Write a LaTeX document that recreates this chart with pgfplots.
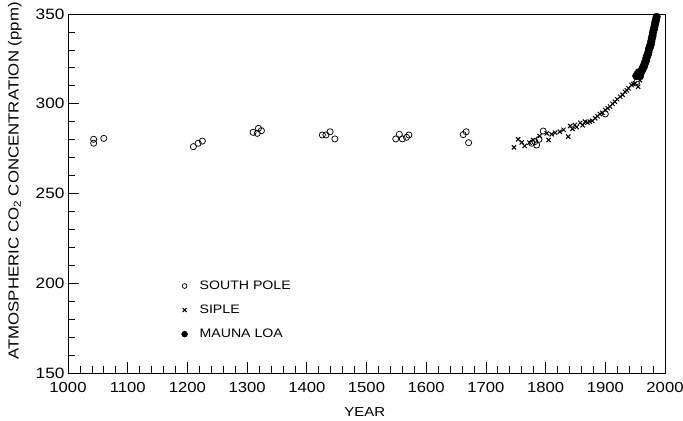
\documentclass[border=0pt]{standalone}
\usepackage{pgfplots}
\pgfplotsset{compat=1.18}
\usepackage{fontspec}
\setmainfont{Liberation Sans}[FakeStretch=1.15]
\usetikzlibrary{calc}
\begin{document}
\begin{tikzpicture}
\begin{axis}[
  scale only axis,
  width=597bp, height=359bp,
  xmin=1000, xmax=2000, ymin=150, ymax=350,
  xtick={1000,1100,...,2000},
  ytick={150,200,...,350},
  minor x tick num=4, minor y tick num=4,
  xtick pos=bottom, ytick pos=left,
  tick align=inside,
  major tick length=11bp, minor tick length=7bp,
  every tick/.style={black, line width=0.7pt},
  axis line style={line width=0.8pt},
  /pgf/number format/assume math mode=true,
  /pgf/number format/1000 sep={},
  x tick label style={font=\fontsize{14.5bp}{16bp}\selectfont, yshift=-6bp},
  y tick label style={font=\fontsize{15bp}{17bp}\selectfont},
  xlabel={YEAR},
  xlabel style={font=\fontsize{13bp}{14bp}\selectfont, at={(axis description cs:0.497,-0.11)}, anchor=center},
  ylabel={ATMOSPHERIC CO\textsubscript{2} CONCENTRATION (ppm)},
  ylabel style={font=\fontsize{14.6bp}{16bp}\selectfont, at={(axis description cs:-0.089,0.535)}, anchor=center},
  legend style={draw=none, fill=none, at={(axis description cs:0.185,0.268)}, anchor=north west,
    font=\fontsize{12.3bp}{13bp}\selectfont, row sep=10bp,
    /tikz/every odd column/.append style={column sep=10bp}},
  legend cell align=left,
]
\addlegendimage{only marks, mark=o, mark size=2.4pt, line width=0.75pt}
\addlegendentry{SOUTH POLE}
\addlegendimage{only marks, mark=x, mark size=2.8pt, line width=1.1pt}
\addlegendentry{SIPLE}
\addlegendimage{only marks, mark=*, mark size=3pt}
\addlegendentry{MAUNA LOA}

% South Pole
\addplot[forget plot, only marks, mark=o, mark size=3.1pt, line width=0.75pt] coordinates {
(1043,280.2) (1043,278.0) (1060,280.7)
(1210,276.1) (1218,278.0) (1225,279.2)
(1310,284.1) (1319,286.3) (1324,285.0) (1317,283.5)
(1426,282.6) (1432,282.6) (1439,284.4) (1447,280.4)
(1549,280.4) (1555,283.0) (1560,280.4) (1567,281.3) (1571,282.6)
(1667,284.4) (1662,282.8) (1671,278.3)
(1777,278.0) (1782,278.9) (1789,280.2) (1796,284.8) (1785,277.0)
(1900,294.3) (1953,312.3)
};

% Siple
\addplot[forget plot, only marks, mark=x, mark size=3pt, line width=1pt] coordinates {
(1747,275.7) (1754,280.2) (1760,278.5) (1765,276.5) (1773,278.3) (1779,279.8)
(1790,282.0) (1802,283.5) (1805,279.8) (1810,283.0) (1816,283.9) (1824,284.4)
(1830,285.5) (1838,281.7) (1841,287.6) (1845,286.0) (1849,288.2) (1852,287.0)
(1858,289.4) (1862,288.0) (1866,290.0) (1870,289.5) (1874,290.0) (1878,290.5)
(1883,291.9) (1887,293.0) (1891,294.3) (1895,295.0) (1900,296.5) (1904,297.5)
(1908,298.4) (1912,300.0) (1916,301.1) (1920,302.5) (1925,303.9) (1929,305.0)
(1933,306.7) (1936,307.5) (1939,308.6) (1944,310.4) (1947,311.0) (1950,311.4)
(1955,309.5) (1958,313.2)
};

% Mauna Loa
\addplot[forget plot, only marks, mark=*, mark size=3.9pt] coordinates {
(1952,315.5) (1954,316.5) (1956,317.5) (1957,316.0) (1958,315.3) (1959,317.0)
(1960,318.0) (1961,318.6) (1962,319.0) (1963,320.0) (1964,320.6) (1965,321.0)
(1966,322.4) (1967,323.2) (1968,324.0) (1969,325.6) (1970,326.7) (1971,327.3)
(1972,328.5) (1973,330.2) (1974,331.0) (1975,332.1) (1976,333.0) (1977,334.8)
(1978,336.4) (1979,337.8) (1980,339.7) (1981,341.1) (1982,342.4) (1983,344.0)
(1984,345.6) (1985,347.0) (1986,348.4) (1987,350.2) (1988,352.6)
};
\coordinate (ll) at (rel axis cs:0,0);
\coordinate (ur) at (rel axis cs:1,1);
\end{axis}
\pgfresetboundingbox
\path ($(ll)+(-68bp,-48bp)$) rectangle ($(ur)+(18bp,14bp)$);
\end{tikzpicture}
\end{document}
